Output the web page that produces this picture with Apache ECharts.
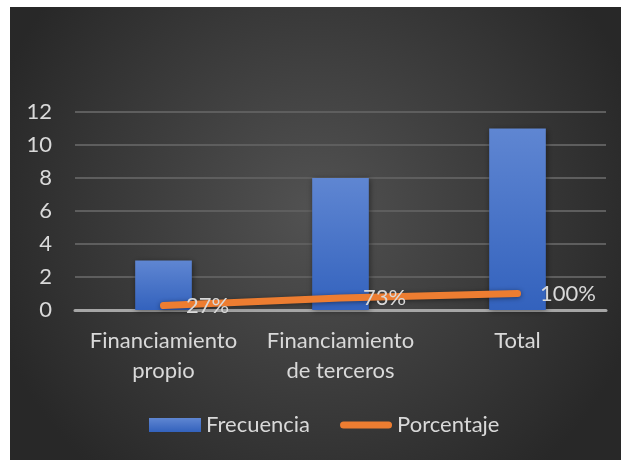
<!DOCTYPE html>
<html>
<head>
<meta charset="utf-8">
<script src="https://cdn.jsdelivr.net/npm/echarts@6/dist/echarts.min.js"></script>
<style>
  html, body { margin: 0; padding: 0; background: #ffffff; width: 621px; height: 460px; overflow: hidden; }
  #chart { position: absolute; left: 10px; top: 7px; width: 611px; height: 453px; }
</style>
</head>
<body>
<div id="chart"></div>
<script>
// Financing sources: frequency and cumulative share
const categories = ['Financiamiento\npropio', 'Financiamiento\nde terceros', 'Total'];
const frecuencia = [3, 8, 11];
const porcentaje = [0.27, 0.73, 1.00];
const porcentajeLabels = ['27%', '73%', '100%'];
const yTicks = [0, 2, 4, 6, 8, 10, 12];

const FONT = 'Lato';
const TEXT = '#d9d9d9';
const SIZE = 22;
const ORANGE = '#ed7d31';

const chart = echarts.init(document.getElementById('chart'), null, { renderer: 'canvas' });

chart.setOption({
  backgroundColor: {
    type: 'radial', x: 0.5, y: 0.45, r: 0.75,
    colorStops: [
      { offset: 0, color: '#525252' },
      { offset: 1, color: '#282828' }
    ]
  },
  textStyle: { fontFamily: FONT },
  animation: false,
  grid: { left: 65, right: 15, top: 105, bottom: 150 },
  legend: {
    bottom: 19,
    left: 134,
    itemGap: 30,
    itemWidth: 52,
    itemHeight: 14,
    textStyle: { color: TEXT, fontSize: SIZE, fontFamily: FONT },
    data: [
      { name: 'Frecuencia', icon: 'rect' },
      {
        name: 'Porcentaje',
        icon: 'path://M4,0 H54 A4,4 0 0 1 54,8 H4 A4,4 0 0 1 4,0 Z',
        itemStyle: { color: ORANGE, borderWidth: 0 }
      }
    ]
  },
  xAxis: {
    type: 'category',
    data: categories,
    axisTick: { show: false },
    axisLine: { lineStyle: { color: '#a6a6a6', width: 3 } },
    axisLabel: {
      color: TEXT, fontSize: SIZE, lineHeight: 30, margin: 16,
      fontFamily: FONT, interval: 0
    }
  },
  yAxis: {
    type: 'value',
    min: yTicks[0],
    max: yTicks[yTicks.length - 1],
    interval: 2,
    axisLine: { show: false },
    axisTick: { show: false },
    splitLine: { lineStyle: { color: '#5e5e5e', width: 2 } },
    axisLabel: { color: TEXT, fontSize: SIZE, margin: 23, fontFamily: FONT }
  },
  series: [
    {
      name: 'Frecuencia',
      type: 'bar',
      data: frecuencia,
      barWidth: '32%',
      itemStyle: {
        color: {
          type: 'linear', x: 0, y: 0, x2: 0, y2: 1,
          colorStops: [
            { offset: 0, color: '#5f86d2' },
            { offset: 1, color: '#3362bd' }
          ]
        },
        shadowColor: 'rgba(0,0,0,0.45)',
        shadowBlur: 6,
        shadowOffsetX: 1,
        shadowOffsetY: 1
      },
      z: 2
    },
    {
      name: 'Porcentaje',
      type: 'line',
      data: porcentaje,
      symbol: 'circle',
      symbolSize: 1,
      showSymbol: true,
      itemStyle: { color: 'rgba(0,0,0,0)', borderWidth: 0 },
      lineStyle: {
        color: ORANGE,
        width: 7,
        cap: 'round',
        shadowColor: 'rgba(0,0,0,0.45)',
        shadowBlur: 5,
        shadowOffsetY: 1
      },
      label: {
        show: true,
        position: 'right',
        distance: 22,
        color: TEXT,
        fontSize: SIZE,
        fontFamily: FONT,
        formatter: p => porcentajeLabels[p.dataIndex]
      },
      z: 3
    }
  ]
});
</script>
</body>
</html>
